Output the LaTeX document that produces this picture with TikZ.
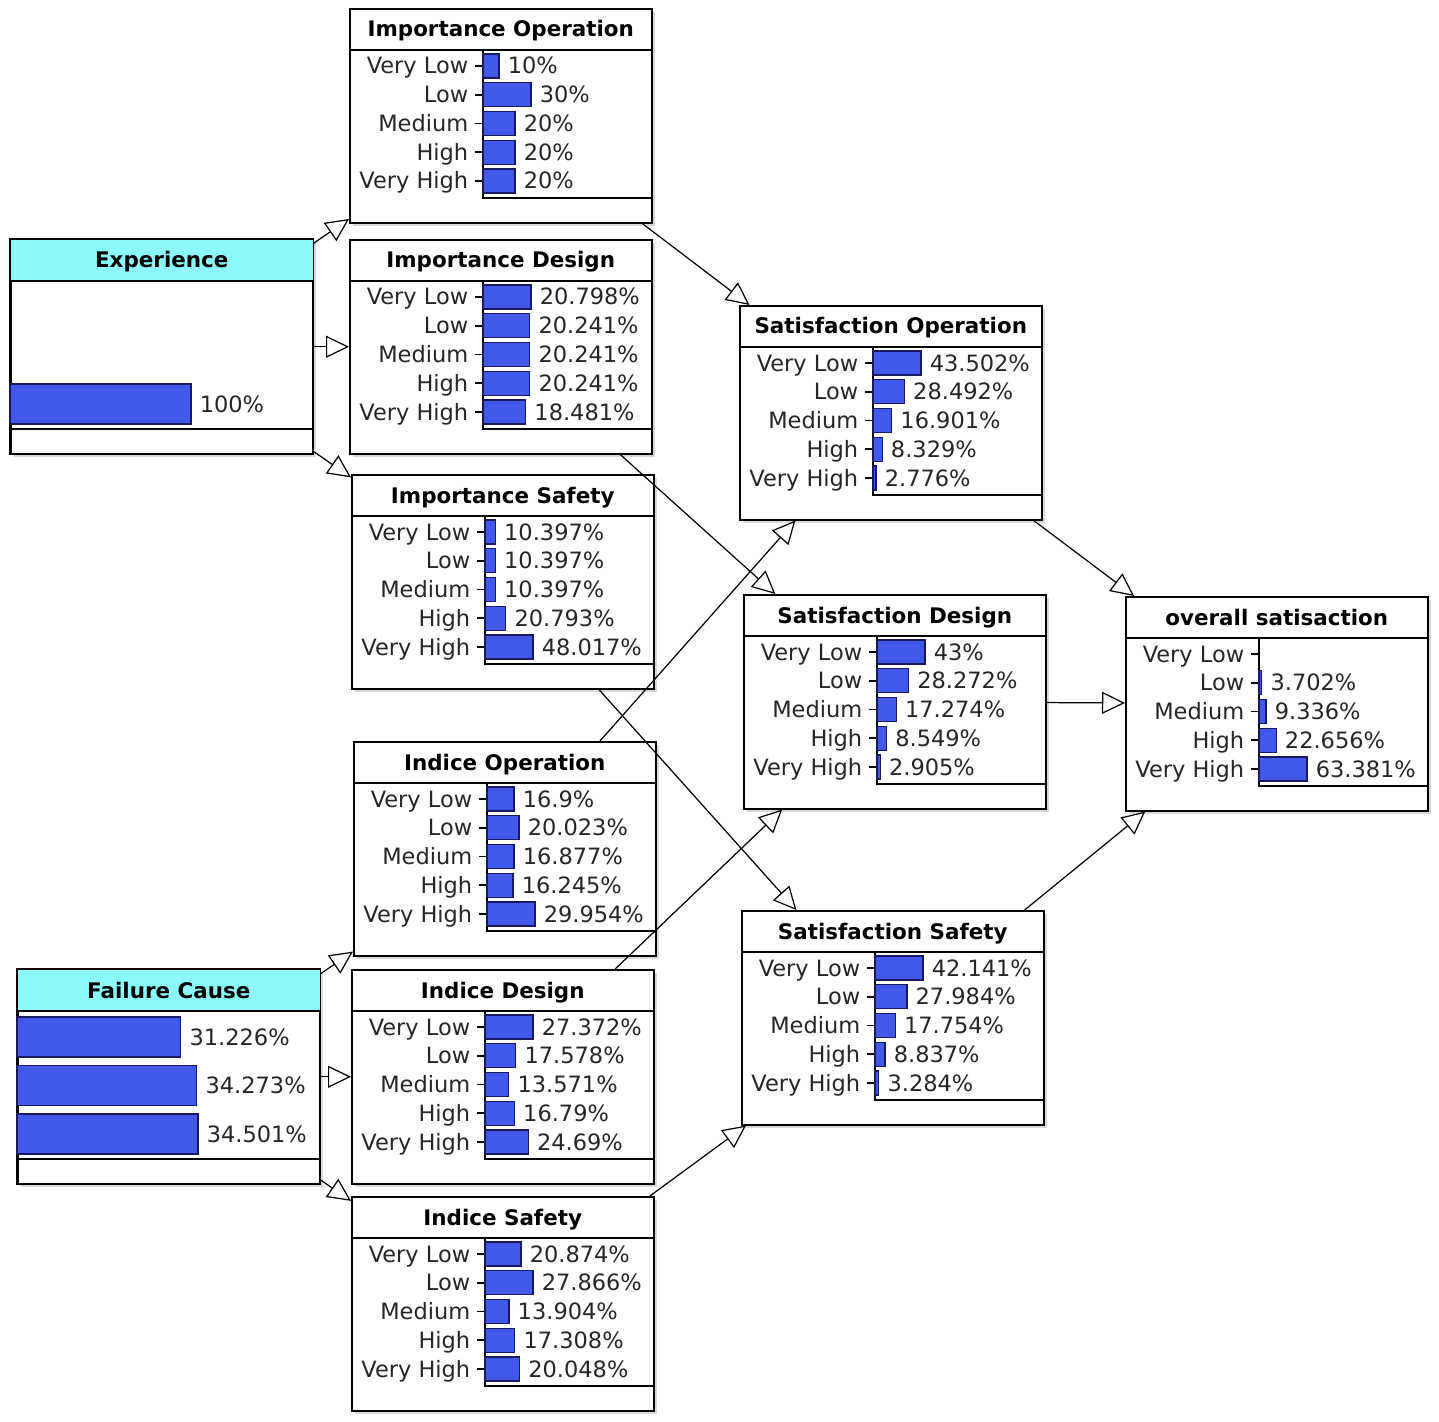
\documentclass[tikz,border=0pt]{standalone}
\usepackage{fontspec}
\setmainfont{DejaVu Sans}
\usepackage{tikz}
\usetikzlibrary{calc}
\usetikzlibrary{arrows.meta,shadows}

\definecolor{barblue}{RGB}{66,88,232}
\definecolor{barline}{RGB}{25,25,95}
\definecolor{headcyan}{RGB}{140,250,252}

\tikzset{netbox/.style={draw, fill=white, anchor=north west, inner sep=0pt, minimum width=6.04cm, minimum height=4.28cm, drop shadow={shadow xshift=2pt, shadow yshift=-2pt, fill=black!30}}}
\tikzset{probbar/.style={draw=barline, fill=barblue, line width=0.7pt}}
\tikzset{statelabel/.style={anchor=base east, inner sep=0pt, text=black!85, font=\fontsize{12.8}{15}\selectfont}}
\tikzset{pctlabel/.style={anchor=base west, inner sep=0pt, text=black!85, font=\fontsize{12.8}{15}\selectfont}}
\tikzset{nodetitle/.style={anchor=base, inner sep=0pt, font=\bfseries\fontsize{12.2}{15}\selectfont}}
\tikzset{link/.style={-{Triangle[open, length=0.46cm, width=0.44cm]}, line width=0.7pt}}

\newcommand{\statename}[1]{\ifcase#1\or Very Low\or Low\or Medium\or High\or Very High\fi}

% node with five states: name, top left corner, title, largest value, values
\newcommand{\probnode}[5]{
	\node[netbox] (#1) at (#2) {};
	\node[nodetitle] at ($(#1.north)+(0,-29)$) {#3};
	\coordinate (#1-t) at ($(#1.north west)+(0,-42)$);
	\draw (#1-t) -- (#1-t -| #1.east);
	% axis
	\coordinate (#1-a) at ($(#1-t)+(134,0)$);
	\coordinate (#1-b) at ($(#1-a)+(0,-148)$);
	\draw (#1-a) -- (#1-b) -- (#1-b -| #1.east);
	\foreach \val [count=\i] in {#5} {
		\coordinate (r) at ($(#1-a)+(0,{-16-(\i-1)*28.75})$);
		\draw ($(r)+(-8,0)$) -- (r);
		\node[statelabel] at ($(r)+(-14,-8)$) {\statename{\i}};
		\ifdim\val pt>0pt
			\draw[probbar] ($(r)+(0,-12)$) rectangle ++({48/#4*\val},24);
			\node[pctlabel] at ($(r)+({48/#4*\val+8},-8)$) {\val\%};
		\fi
	}
}

% root node with three bars and no state names
\newcommand{\rootnode}[5]{
	\node[netbox] (#1) at (#2) {};
	\fill[headcyan] (#1.north west) rectangle ($(#1.north east)+(0,-42)$);
	\draw (#1.north west) rectangle (#1.south east);
	\node[nodetitle] at ($(#1.north)+(0,-29)$) {#3};
	\coordinate (#1-t) at ($(#1.north west)+(0,-42)$);
	\coordinate (#1-b) at ($(#1-t)+(0,-148)$);
	\draw (#1-t) -- (#1-t -| #1.east);
	\draw (#1-b) -- (#1-b -| #1.east);
	\foreach \val [count=\i] in {#5} {
		\coordinate (r) at ($(#1-t)+(0,{-26-(\i-1)*48.5})$);
		\ifdim\val pt>0pt
			\draw[probbar] ($(r)+(0,-20)$) rectangle ++({181/#4*\val},40);
			\node[pctlabel] at ($(r)+({181/#4*\val+8},-8)$) {\val\%};
		\fi
	}
}

\begin{document}
\begin{tikzpicture}[x=0.02cm, y=0.02cm, line width=0.9pt]

	\useasboundingbox (0,0) rectangle (1439,-1422);

	% root nodes
	\rootnode{exp}{10,-239}{Experience}{100}{0,0,100}
	\rootnode{fail}{17,-969}{Failure Cause}{34.501}{31.226,34.273,34.501}

	% importance
	\probnode{impop}{349,-8}{Importance Operation}{30}{10,30,20,20,20}
	\probnode{impdes}{349,-239}{Importance Design}{20.798}{20.798,20.241,20.241,20.241,18.481}
	\probnode{impsaf}{351,-474}{Importance Safety}{48.017}{10.397,10.397,10.397,20.793,48.017}

	% indices
	\probnode{indop}{353,-741}{Indice Operation}{29.954}{16.9,20.023,16.877,16.245,29.954}
	\probnode{inddes}{351,-969}{Indice Design}{27.372}{27.372,17.578,13.571,16.79,24.69}
	\probnode{indsaf}{351,-1196}{Indice Safety}{27.866}{20.874,27.866,13.904,17.308,20.048}

	% satisfaction
	\probnode{satop}{739,-305}{Satisfaction Operation}{43.502}{43.502,28.492,16.901,8.329,2.776}
	\probnode{satdes}{743,-594}{Satisfaction Design}{43}{43,28.272,17.274,8.549,2.905}
	\probnode{satsaf}{741,-910}{Satisfaction Safety}{42.141}{42.141,27.984,17.754,8.837,3.284}
	\probnode{overall}{1125,-596}{overall satisaction}{63.381}{0,3.702,9.336,22.656,63.381}

	% links
	\draw[link] (exp) -- (impop);
	\draw[link] (exp) -- (impdes);
	\draw[link] (exp) -- (impsaf);
	\draw[link] (fail) -- (indop);
	\draw[link] (fail) -- (inddes);
	\draw[link] (fail) -- (indsaf);
	\draw[link] (impop) -- (satop);
	\draw[link] (indop) -- (satop);
	\draw[link] (impdes) -- (satdes);
	\draw[link] (inddes) -- (satdes);
	\draw[link] (impsaf) -- (satsaf);
	\draw[link] (indsaf) -- (satsaf);
	\draw[link] (satop) -- (overall);
	\draw[link] (satdes) -- (overall);
	\draw[link] (satsaf) -- (overall);

\end{tikzpicture}
\end{document}
